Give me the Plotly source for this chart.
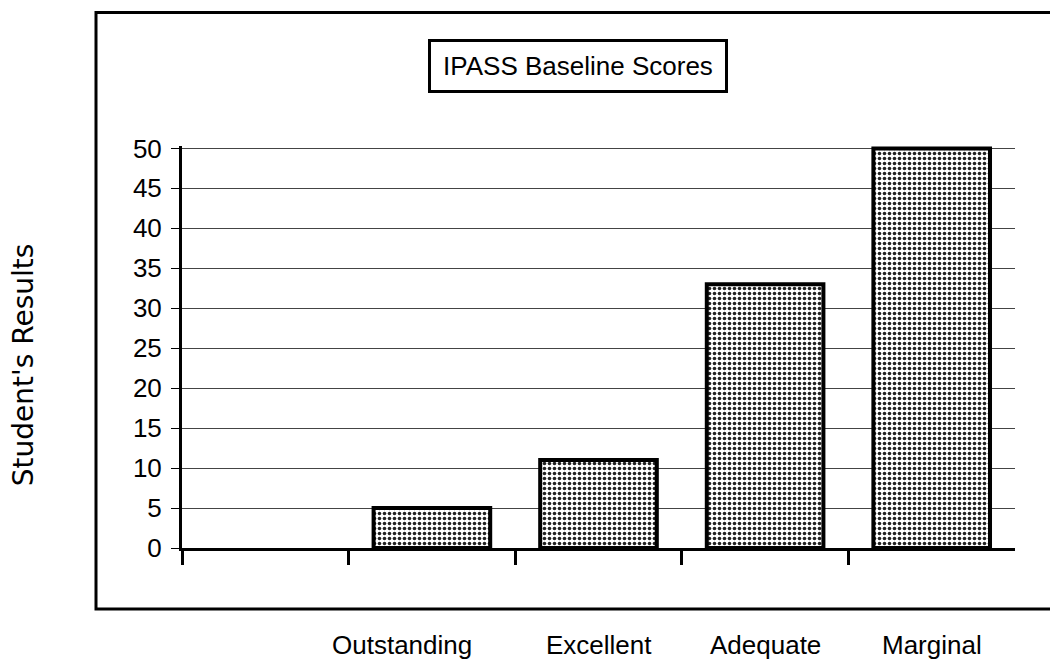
import plotly.graph_objects as go

# ---- data ----
categories = ["", "Outstanding", "Excellent", "Adequate", "Marginal"]
scores = [0, 5, 11, 33, 50]
y_ticks = [0, 5, 10, 15, 20, 25, 30, 35, 40, 45, 50]
chart_title = "IPASS Baseline Scores"
y_title = "Student's Results"

x_pos = list(range(len(categories)))

fig = go.Figure()
fig.add_trace(go.Bar(
    x=x_pos,
    y=scores,
    width=0.70,
    marker=dict(
        color="white",
        line=dict(color="black", width=[0 if v == 0 else 4 for v in scores]),
        pattern=dict(shape=".", fgcolor="#222222", bgcolor="white",
                     size=5, solidity=0.4, fillmode="replace"),
    ),
    showlegend=False,
    hoverinfo="x+y",
))

# plot geometry (pixels)
H = 402.4
fig.update_layout(
    width=1050, height=660,
    margin=dict(l=182, r=35, t=660 - 112 - H, b=112),
    paper_bgcolor="white", plot_bgcolor="white",
    bargap=0.3,
    font=dict(family="Liberation Sans, Arial, sans-serif", color="black"),
)

fig.update_xaxes(
    range=[-0.5, len(categories) - 0.5],
    tickvals=[i - 0.5 for i in x_pos],
    ticktext=["" for _ in x_pos],
    showticklabels=False,
    ticks="outside", ticklen=14, tickwidth=3, tickcolor="black",
    showline=True, linewidth=3, linecolor="black",
    showgrid=False, zeroline=False, fixedrange=True,
)
fig.update_yaxes(
    range=[0, 50.3],
    tickvals=y_ticks,
    ticktext=[str(v) for v in y_ticks],
    ticks="outside", ticklen=8, tickwidth=1, tickcolor="black",
    ticklabelstandoff=4,
    tickfont=dict(family="Liberation Sans, Arial, sans-serif", size=26, color="black"),
    showline=True, linewidth=3, linecolor="black",
    showgrid=True, gridcolor="#444444", gridwidth=1,
    zeroline=False, fixedrange=True,
)

def py(p):
    return (548 - p) / H

def px(p):
    return (p - 182) / 833

# outer frame
fig.add_shape(type="rect", xref="paper", yref="paper",
              x0=px(96), x1=px(1070), y0=py(609), y1=py(12),
              line=dict(color="black", width=3), layer="below")

# boxed title
fig.add_annotation(
    text=chart_title, xref="paper", yref="paper",
    x=px(577.5), y=py(66), xanchor="center", yanchor="middle",
    showarrow=False,
    font=dict(family="Liberation Sans, Arial, sans-serif", size=26, color="black"),
    bordercolor="black", borderwidth=3, borderpad=4, bgcolor="white",
    width=286, height=40,
)

# y axis title
fig.add_annotation(
    text=y_title, xref="paper", yref="paper",
    x=px(23), y=py(365), xanchor="center", yanchor="middle",
    textangle=-90, showarrow=False,
    font=dict(family="DejaVu Sans, sans-serif", size=28, color="black"),
)

# category labels below the frame
for i, cat in zip(x_pos, categories):
    if not cat:
        continue
    fig.add_annotation(
        text=cat, x=i, xref="x", yref="paper", y=py(645),
        xanchor="center", yanchor="middle", showarrow=False,
        xshift=-30 if i == 1 else 0,
        font=dict(family="Liberation Sans, Arial, sans-serif", size=26, color="black"),
    )

fig.write_html(
    "out.html",
    config={"displayModeBar": False},
    post_script="document.body.style.margin='0';document.body.style.overflow='hidden';",
)
